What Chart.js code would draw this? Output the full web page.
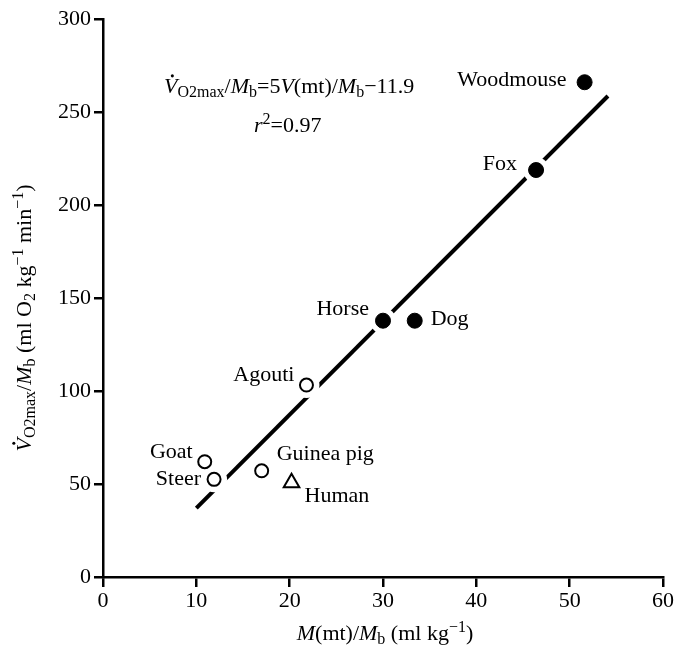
<!DOCTYPE html>
<html>
<head>
<meta charset="utf-8">
<script src="https://cdn.jsdelivr.net/npm/chart.js@4.4.0/dist/chart.umd.min.js"></script>
<style>
  html, body { margin: 0; padding: 0; background: #fff; }
  #wrap { width: 689px; height: 652px; }
</style>
</head>
<body>
<div id="wrap"><canvas id="chart"></canvas></div>
<script>
// data
const filledNames = ["Woodmouse", "Fox", "Horse", "Dog"];
const filledX = [51.6, 46.4, 30.0, 33.4];
const filledY = [266, 218.8, 137.8, 137.8];

const openNames = ["Agouti", "Goat", "Steer", "Guinea pig"];
const openX = [21.8, 10.9, 11.9, 17.0];
const openY = [103.2, 62, 52.5, 57.1];

const humanNames = ["Human"];
const humanX = [20.2];
const humanY = [50.7];

const fitX = [10, 54.1];
const fitY = [37, 258.6];

const xTicks = [0, 10, 20, 30, 40, 50, 60];
const yTicks = [0, 50, 100, 150, 200, 250, 300];

const FONT = "Liberation Serif";
const SIZE = 22;
const toPts = (xs, ys) => xs.map((x, i) => ({ x: x, y: ys[i] }));

// label placement relative to the marker, in pixels
const labelPos = {
  "Woodmouse": { dx: -18, dy: 4, align: "right" },
  "Fox": { dx: -19, dy: 0, align: "right" },
  "Horse": { dx: -14, dy: -6, align: "right" },
  "Dog": { dx: 16, dy: 4, align: "left" },
  "Agouti": { dx: -12, dy: -4, align: "right" },
  "Goat": { dx: -12, dy: -4, align: "right" },
  "Steer": { dx: -13, dy: 6, align: "right" },
  "Guinea pig": { dx: 15, dy: -11, align: "left" },
  "Human": { dx: 13, dy: 19, align: "left" }
};

// draws mixed italic / subscript / superscript text
// flags: i = italic, b = subscript, p = superscript, d = dot above
function richText(ctx, parts, x, y, size, align) {
  const fontFor = (f) => {
    const small = f.includes("b") || f.includes("p");
    const s = small ? Math.round(size * 0.74) : size;
    return (f.includes("i") ? "italic " : "") + s + "px " + FONT;
  };
  let total = 0;
  parts.forEach(([t, f]) => { ctx.font = fontFor(f); total += ctx.measureText(t).width; });
  let cx = align === "center" ? x - total / 2 : x;
  ctx.textAlign = "left";
  ctx.textBaseline = "alphabetic";
  parts.forEach(([t, f]) => {
    ctx.font = fontFor(f);
    let yy = y;
    if (f.includes("b")) yy += size * 0.2;
    if (f.includes("p")) yy -= size * 0.36;
    ctx.fillText(t, cx, yy);
    const w = ctx.measureText(t).width;
    if (f.includes("d")) {
      ctx.beginPath();
      ctx.arc(cx + w * 0.62, yy - size * 0.78, size * 0.07, 0, Math.PI * 2);
      ctx.fill();
    }
    cx += w;
  });
}

const eqParts = [["V", "id"], ["O", "b"], ["2", "b"], ["max", "b"], ["/", ""], ["M", "i"], ["b", "b"],
  ["=5", ""], ["V", "i"], ["(mt)/", ""], ["M", "i"], ["b", "b"], ["\u221211.9", ""]];
const r2Parts = [["r", "i"], ["2", "p"], ["=0.97", ""]];
const xTitleParts = [["M", "i"], ["(mt)/", ""], ["M", "i"], ["b", "b"], [" (ml kg", ""], ["\u22121", "p"], [")", ""]];
const yTitleParts = [["V", "id"], ["O", "b"], ["2", "b"], ["max", "b"], ["/", ""], ["M", "i"], ["b", "b"],
  [" (ml O", ""], ["2", "b"], [" kg", ""], ["\u22121", "p"], [" min", ""], ["\u22121", "p"], [")", ""]];

const annotations = {
  id: "annotations",
  afterDraw(chart) {
    const ctx = chart.ctx;
    const sx = chart.scales.x, sy = chart.scales.y;
    ctx.save();
    ctx.fillStyle = "#000";
    const put = (names, xs, ys) => names.forEach((n, i) => {
      const p = labelPos[n];
      ctx.font = SIZE + "px " + FONT;
      ctx.textAlign = p.align;
      ctx.textBaseline = "alphabetic";
      ctx.fillText(n, sx.getPixelForValue(xs[i]) + p.dx, sy.getPixelForValue(ys[i]) + p.dy);
    });
    put(filledNames, filledX, filledY);
    put(openNames, openX, openY);
    put(humanNames, humanX, humanY);

    richText(ctx, eqParts, 164, 93, SIZE, "left");
    richText(ctx, r2Parts, 254, 132, SIZE, "left");
    richText(ctx, xTitleParts, 385, 640, SIZE, "center");

    ctx.save();
    ctx.translate(31, 318);
    ctx.rotate(-Math.PI / 2);
    richText(ctx, yTitleParts, 0, 0, SIZE, "center");
    ctx.restore();
    ctx.restore();
  }
};

const allPts = toPts(filledX.concat(openX, humanX), filledY.concat(openY, humanY));

new Chart(document.getElementById("chart"), {
  type: "scatter",
  data: {
    datasets: [
      {
        type: "line",
        data: toPts(fitX, fitY),
        borderColor: "#000",
        borderWidth: 4,
        pointRadius: 0,
        order: 3
      },
      {
        // white halo that breaks the line around each marker
        data: allPts,
        pointRadius: 13,
        backgroundColor: "#fff",
        borderWidth: 0,
        order: 2
      },
      {
        data: toPts(filledX, filledY),
        pointRadius: 7.5,
        backgroundColor: "#000",
        borderColor: "#000",
        borderWidth: 1,
        order: 1
      },
      {
        data: toPts(openX, openY),
        pointRadius: 6.5,
        backgroundColor: "#fff",
        borderColor: "#000",
        borderWidth: 2,
        order: 1
      },
      {
        data: toPts(humanX, humanY),
        pointStyle: "triangle",
        pointRadius: 9,
        backgroundColor: "#fff",
        borderColor: "#000",
        borderWidth: 2,
        order: 1
      }
    ]
  },
  options: {
    responsive: true,
    maintainAspectRatio: false,
    animation: false,
    events: [],
    layout: { padding: { top: 19, right: 26, left: 0, bottom: 0 } },
    plugins: { legend: { display: false }, tooltip: { enabled: false } },
    scales: {
      x: {
        type: "linear",
        min: 0,
        max: 60,
        afterBuildTicks: (s) => { s.ticks = xTicks.map(v => ({ value: v })); },
        afterFit: (s) => { s.height = 75; },
        grid: { drawOnChartArea: false, drawTicks: true, tickLength: 10, color: "#000", lineWidth: 2.5 },
        border: { display: true, color: "#000", width: 2.5 },
        ticks: { color: "#000", font: { family: FONT, size: SIZE }, padding: 1, maxRotation: 0 }
      },
      y: {
        type: "linear",
        min: 0,
        max: 300,
        afterBuildTicks: (s) => { s.ticks = yTicks.map(v => ({ value: v })); },
        afterFit: (s) => { s.width = 103; },
        grid: { drawOnChartArea: false, drawTicks: true, tickLength: 9, color: "#000", lineWidth: 2.5 },
        border: { display: true, color: "#000", width: 2.5 },
        ticks: { color: "#000", font: { family: FONT, size: SIZE }, padding: 3 }
      }
    }
  },
  plugins: [annotations]
});
</script>
</body>
</html>
